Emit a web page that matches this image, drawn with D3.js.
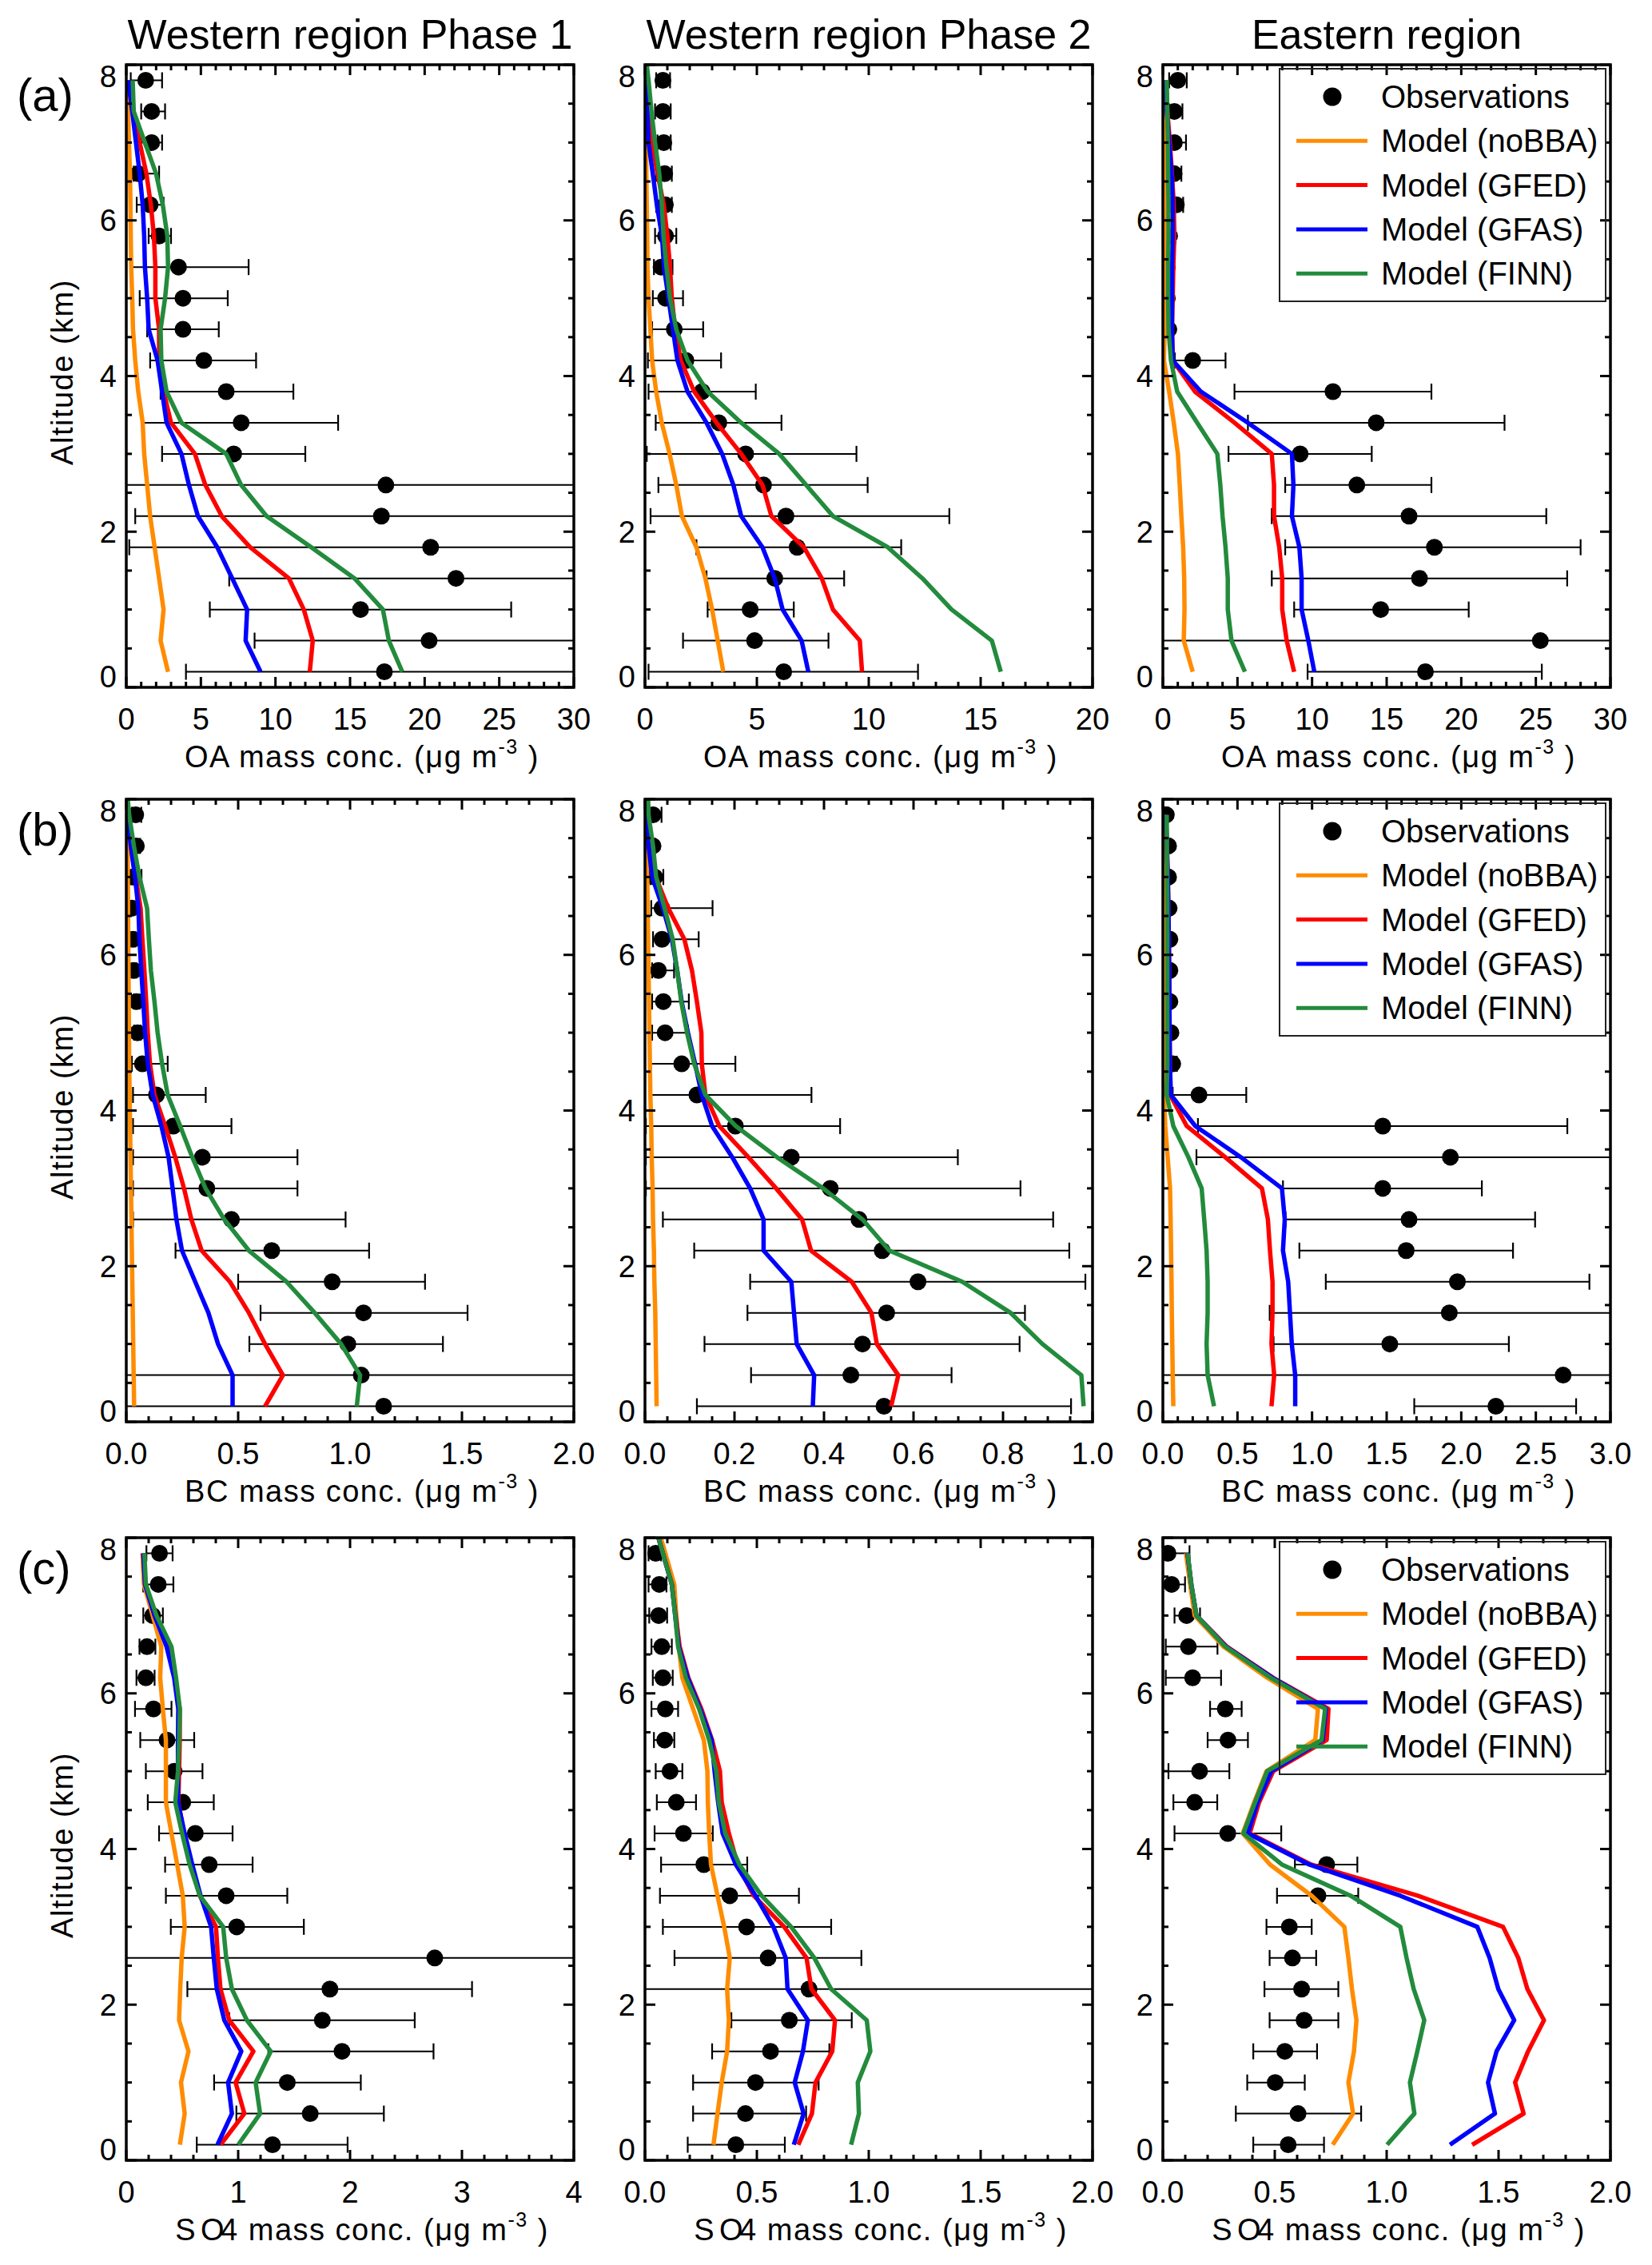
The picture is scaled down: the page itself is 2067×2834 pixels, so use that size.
<!DOCTYPE html>
<html><head><meta charset="utf-8">
<script src="https://cdn.jsdelivr.net/npm/d3@7"></script>
<style>
body{margin:0;background:#fff}
text{font-family:"Liberation Sans",Arial,Helvetica,sans-serif;fill:#000}
</style>
</head><body>
<svg id="c" width="2067" height="2834" xmlns="http://www.w3.org/2000/svg"></svg>
<script>
// ---------------- DATA ----------------
// altitude levels (km); the 21st level (8.2) only exists for some model profiles and is clipped
const altitudes = [0.2,0.6,1.0,1.4,1.8,2.2,2.6,3.0,3.4,3.8,4.2,4.6,5.0,5.4,5.8,6.2,6.6,7.0,7.4,7.8,8.2];
const columnTitles = ["Western region Phase 1","Western region Phase 2","Eastern region"];
const rowLabels = ["(a)","(b)","(c)"];
const seriesNames = ["Model (noBBA)","Model (GFED)","Model (GFAS)","Model (FINN)"];
const seriesColors = ["#FF8C00","#FF0000","#0000FF","#228B3C"];

// ---- OA, Western Phase 1 ----
const oaW1Obs = [17.3,20.3,15.7,22.1,20.4,17.1,17.4,7.2,7.7,6.7,5.2,3.8,3.8,3.5,2.2,1.6,0.8,1.7,1.7,1.3];
const oaW1Lo  = [4.0,8.6,5.6,6.9,0.2,0.6,-1,2.4,1.1,2.3,1.6,1.4,0.9,0.3,1.5,0.7,0.5,1.0,1.0,0.3];
const oaW1Hi  = [35,35,25.8,35,35,35,35,12.0,14.2,11.2,8.7,6.2,6.8,8.2,3.0,2.5,2.2,2.4,2.6,2.4];
const oaW1NoBBA = [2.8,2.3,2.5,2.2,1.9,1.6,1.4,1.2,1.1,0.8,0.6,0.45,0.4,0.33,0.3,0.28,0.25,0.18,0.13,0.08];
const oaW1GFED  = [12.3,12.5,11.9,10.9,8.3,6.4,5.3,4.6,3.0,2.5,2.2,2.2,1.95,1.95,1.85,1.65,1.35,0.9,0.45,0.13];
const oaW1GFAS  = [9.0,8.0,8.1,7.1,6.1,4.8,4.2,3.7,2.7,2.4,2.1,1.5,1.4,1.25,1.2,1.1,0.9,0.65,0.4,0.13];
const oaW1FINN  = [18.5,17.6,17.2,15.3,12.4,9.4,7.7,6.7,3.7,2.7,2.35,2.3,2.6,2.8,2.75,2.45,2.0,1.25,0.5,0.43];

// ---- OA, Western Phase 2 ----
const oaW2Obs = [6.2,4.9,4.7,5.8,6.8,6.3,5.3,4.5,3.3,2.55,1.83,1.31,0.92,0.72,0.92,0.91,0.88,0.84,0.8,0.8];
const oaW2Lo  = [0.16,1.7,2.8,2.75,2.3,0.25,0.6,0.08,0.48,0.16,0.13,0.32,0.35,0.4,0.45,0.5,0.5,0.56,0.45,0.5];
const oaW2Hi  = [12.2,8.2,6.65,8.9,11.45,13.6,9.95,9.45,6.1,4.95,3.4,2.6,1.7,1.23,1.4,1.2,1.2,1.15,1.15,1.12];
const oaW2NoBBA = [3.5,3.25,3.0,2.7,2.3,1.65,1.4,1.1,0.75,0.5,0.32,0.24,0.16,0.11,0.1,0.08,0.06,0.05,0.03,0.02,0];
const oaW2GFED  = [9.7,9.6,8.4,7.9,7.1,5.65,5.25,4.3,3.2,2.2,1.6,1.35,1.2,1.12,1.0,0.84,0.56,0.32,0.16,0.08,0];
const oaW2GFAS  = [7.3,7.0,6.15,5.8,5.25,4.3,3.95,3.45,2.75,1.9,1.45,1.25,1.05,0.85,0.76,0.53,0.35,0.16,0.1,0.03,0];
const oaW2FINN  = [15.9,15.5,13.7,12.4,10.85,8.4,7.2,6.0,4.3,2.8,1.9,1.4,1.12,0.96,0.83,0.75,0.64,0.45,0.29,0.16,0];

// ---- OA, Eastern ----
const oaEObs = [17.6,25.3,14.6,17.2,18.2,16.5,13.0,9.2,14.3,11.4,2.0,0.4,0.3,0.3,0.45,0.9,0.75,0.77,0.77,1.0];
const oaELo  = [9.7,-2,8.8,7.3,8.2,7.3,8.2,4.4,5.7,4.8,0.8,0.3,0.25,0.25,0.2,0.47,0.47,0.38,0.42,0.42];
const oaEHi  = [25.4,35,20.5,27.1,28.0,25.7,18.0,14.0,22.9,18.0,4.2,0.62,0.35,0.35,0.85,1.36,1.24,1.55,1.31,1.6];
const oaENoBBA = [2.0,1.4,1.45,1.43,1.36,1.24,1.13,1.01,0.73,0.42,0.07,0.12,0.14,0.14,0.19,0.23,0.19,0.14,0.09,0.07];
const oaEGFED  = [8.8,8.3,8.0,8.0,7.8,7.45,7.45,7.3,4.8,2.15,0.66,0.61,0.66,0.7,0.77,0.73,0.61,0.47,0.3,0.19];
const oaEGFAS  = [10.15,9.75,9.3,9.3,9.15,8.65,8.75,8.65,5.7,2.55,0.66,0.61,0.61,0.61,0.66,0.66,0.58,0.42,0.26,0.14];
const oaEFINN  = [5.5,4.6,4.35,4.35,4.2,4.0,3.85,3.65,2.3,0.96,0.54,0.38,0.35,0.35,0.38,0.38,0.35,0.33,0.3,0.26];

// ---- BC, Western Phase 1 ----
const bcW1Obs = [1.15,1.05,0.99,1.06,0.92,0.65,0.47,0.36,0.34,0.21,0.135,0.072,0.05,0.045,0.034,0.03,0.025,0.03,0.045,0.042];
const bcW1Lo  = [-0.1,-0.1,0.55,0.6,0.5,0.22,0.03,0.03,0.03,0.03,0.03,0.025,0.035,0.035,0.025,0.02,0.02,0.02,0.025,0.025];
const bcW1Hi  = [2.5,2.5,1.415,1.525,1.335,1.085,0.98,0.765,0.765,0.47,0.355,0.185,0.065,0.06,0.045,0.04,0.03,0.068,0.062,0.067];
const bcW1NoBBA = [0.035,0.033,0.031,0.029,0.027,0.025,0.023,0.021,0.019,0.017,0.015,0.013,0.012,0.011,0.01,0.009,0.008,0.007,0.006,0.005,0.004];
const bcW1GFED  = [0.62,0.70,0.62,0.548,0.463,0.337,0.291,0.258,0.219,0.174,0.126,0.106,0.096,0.089,0.081,0.072,0.064,0.042,0.022,0.008,0];
const bcW1GFAS  = [0.475,0.475,0.41,0.367,0.308,0.249,0.224,0.207,0.189,0.157,0.118,0.096,0.084,0.076,0.067,0.059,0.054,0.039,0.02,0.005,0];
const bcW1FINN  = [1.03,1.045,0.96,0.842,0.716,0.548,0.438,0.354,0.295,0.241,0.185,0.16,0.14,0.126,0.11,0.101,0.093,0.059,0.034,0.013,0];

// ---- BC, Western Phase 2 ----
const bcW2Obs = [0.534,0.46,0.486,0.54,0.61,0.53,0.478,0.414,0.327,0.202,0.116,0.082,0.045,0.041,0.03,0.038,0.038,0.022,0.018,0.018];
const bcW2Lo  = [0.116,0.237,0.133,0.229,0.235,0.11,0.04,0.002,0.002,0.002,0.014,0.012,0.016,0.016,0.016,0.018,0.014,0.012,0.014,0.008];
const bcW2Hi  = [0.952,0.685,0.837,0.849,0.984,0.948,0.912,0.839,0.699,0.436,0.372,0.202,0.096,0.098,0.065,0.12,0.151,0.041,0.022,0.037];
const bcW2NoBBA = [0.026,0.025,0.024,0.023,0.021,0.02,0.018,0.017,0.015,0.014,0.012,0.011,0.01,0.009,0.008,0.007,0.006,0.005,0.003,0.002,0.001];
const bcW2GFED  = [0.55,0.566,0.518,0.506,0.462,0.371,0.351,0.293,0.231,0.166,0.135,0.127,0.126,0.116,0.105,0.088,0.052,0.024,0.012,0.003,0];
const bcW2GFAS  = [0.375,0.378,0.339,0.333,0.327,0.265,0.265,0.235,0.195,0.15,0.127,0.112,0.096,0.082,0.072,0.06,0.04,0.016,0.008,0.002,0];
const bcW2FINN  = [0.98,0.975,0.888,0.817,0.709,0.546,0.486,0.398,0.295,0.203,0.135,0.11,0.094,0.081,0.072,0.062,0.044,0.025,0.018,0.008,0.006];

// ---- BC, Eastern ----
const bcEObs = [2.232,2.683,1.521,1.92,1.974,1.631,1.65,1.474,1.927,1.474,0.242,0.066,0.054,0.047,0.047,0.047,0.042,0.038,0.038,0.023];
const bcELo  = [1.685,-0.2,0.742,0.716,1.092,0.915,0.822,0.805,0.225,0.235,0.066,0.03,0.04,0.035,0.035,0.035,0.03,0.03,0.03,0.015];
const bcEHi  = [2.77,3.5,2.319,3.5,2.859,2.347,2.495,2.138,3.5,2.711,0.559,0.094,0.065,0.06,0.06,0.06,0.055,0.05,0.05,0.035];
const bcENoBBA = [0.07,0.066,0.063,0.06,0.058,0.055,0.052,0.048,0.032,0.016,0.008,0.012,0.014,0.015,0.016,0.016,0.015,0.014,0.012,0.01];
const bcEGFED  = [0.728,0.746,0.728,0.735,0.735,0.718,0.704,0.664,0.418,0.16,0.049,0.047,0.045,0.044,0.042,0.04,0.037,0.033,0.027,0.02];
const bcEGFAS  = [0.887,0.887,0.864,0.852,0.84,0.805,0.817,0.798,0.523,0.218,0.054,0.047,0.045,0.044,0.042,0.04,0.037,0.033,0.027,0.02];
const bcEFINN  = [0.343,0.3,0.293,0.3,0.3,0.293,0.277,0.26,0.171,0.07,0.026,0.03,0.03,0.03,0.03,0.03,0.03,0.028,0.027,0.026];

// ---- SO4, Western Phase 1 ----
const so4W1Obs = [1.307,1.644,1.439,1.928,1.752,1.82,2.757,0.987,0.893,0.741,0.617,0.505,0.428,0.364,0.243,0.175,0.185,0.236,0.286,0.297];
const so4W1Lo  = [0.63,0.984,0.785,1.27,0.92,0.546,-0.2,0.398,0.354,0.347,0.293,0.192,0.175,0.125,0.078,0.091,0.118,0.152,0.152,0.18];
const so4W1Hi  = [1.978,2.302,2.096,2.746,2.578,3.09,5,1.587,1.439,1.129,0.95,0.782,0.681,0.607,0.404,0.253,0.26,0.327,0.421,0.414];
const so4W1NoBBA = [0.479,0.522,0.489,0.556,0.472,0.482,0.495,0.522,0.505,0.455,0.404,0.354,0.354,0.354,0.327,0.303,0.313,0.236,0.158,0.145];
const so4W1GFED  = [0.842,1.055,0.977,1.136,0.92,0.842,0.819,0.802,0.657,0.58,0.515,0.465,0.472,0.478,0.478,0.432,0.371,0.253,0.168,0.152];
const so4W1GFAS  = [0.815,0.944,0.91,1.028,0.876,0.809,0.782,0.758,0.664,0.59,0.522,0.462,0.462,0.462,0.465,0.428,0.36,0.253,0.168,0.152];
const so4W1FINN  = [1.001,1.196,1.156,1.291,1.078,0.944,0.893,0.866,0.657,0.566,0.499,0.438,0.462,0.472,0.479,0.445,0.404,0.27,0.175,0.162];

// ---- SO4, Western Phase 2 ----
const so4W2Obs = [0.406,0.449,0.494,0.561,0.645,0.733,0.55,0.454,0.379,0.263,0.172,0.14,0.112,0.088,0.091,0.08,0.075,0.061,0.064,0.048];
const so4W2Lo  = [0.191,0.215,0.215,0.3,0.386,-0.2,0.132,0.08,0.067,0.072,0.043,0.053,0.048,0.04,0.029,0.035,0.029,0.019,0.016,0.016];
const so4W2Hi  = [0.625,0.72,0.776,0.824,0.924,2.5,0.967,0.832,0.688,0.457,0.303,0.228,0.167,0.131,0.148,0.124,0.12,0.099,0.096,0.072];
const so4W2NoBBA = [0.306,0.324,0.343,0.367,0.375,0.367,0.379,0.354,0.324,0.295,0.287,0.281,0.279,0.263,0.215,0.167,0.151,0.14,0.131,0.091,0.05];
const so4W2GFED  = [0.685,0.746,0.762,0.837,0.849,0.744,0.722,0.622,0.486,0.414,0.375,0.343,0.335,0.3,0.252,0.194,0.155,0.137,0.12,0.08,0.04];
const so4W2GFAS  = [0.665,0.709,0.669,0.706,0.728,0.637,0.629,0.574,0.494,0.406,0.347,0.327,0.311,0.298,0.247,0.191,0.151,0.135,0.12,0.08,0.04];
const so4W2FINN  = [0.921,0.956,0.951,1.007,0.991,0.832,0.757,0.653,0.521,0.422,0.359,0.33,0.319,0.287,0.242,0.183,0.148,0.135,0.12,0.08,0.04];

// ---- SO4, Eastern ----
const so4EObs = [0.56,0.604,0.502,0.545,0.631,0.62,0.579,0.565,0.693,0.732,0.29,0.142,0.164,0.291,0.279,0.133,0.114,0.106,0.039,0.023];
const so4ELo  = [0.404,0.326,0.377,0.404,0.477,0.454,0.477,0.463,0.51,0.59,0.052,0.047,0.025,0.2,0.211,0.013,0.013,0.052,-0.05,-0.05];
const so4EHi  = [0.72,0.886,0.634,0.689,0.784,0.784,0.685,0.665,0.873,0.869,0.529,0.243,0.297,0.38,0.352,0.26,0.244,0.166,0.099,0.119];
const so4ENoBBA = [0.759,0.85,0.829,0.854,0.865,0.845,0.829,0.811,0.665,0.479,0.357,0.408,0.463,0.681,0.693,0.466,0.271,0.142,0.122,0.103];
const so4EGFED  = [1.382,1.612,1.574,1.632,1.703,1.629,1.588,1.52,1.139,0.662,0.388,0.43,0.493,0.732,0.74,0.493,0.286,0.15,0.127,0.11];
const so4EGFAS  = [1.283,1.484,1.453,1.491,1.57,1.499,1.46,1.405,1.061,0.654,0.38,0.423,0.485,0.714,0.729,0.49,0.282,0.15,0.127,0.11];
const so4EFINN  = [1.002,1.124,1.104,1.137,1.168,1.121,1.089,1.061,0.839,0.532,0.36,0.412,0.466,0.709,0.725,0.482,0.279,0.15,0.127,0.111];

// axis ranges / ticks
const xMaxes   = [[30,20,30],[2.0,1.0,3.0],[4,2.0,2.0]];
const xMajors  = [[5,5,5],[0.5,0.2,0.5],[1,0.5,0.5]];
const xMinors  = [[1,1,1],[0.1,0.05,0.1],[0.2,0.1,0.1]];
const xDecimals= [[0,0,0],[1,1,1],[0,1,1]];
const yTickValues = [0,2,4,6,8];
const species = ["OA","BC","SO4"];

// ---------------- LAYOUT ----------------
const LEFT = [158, 807, 1455], W = 560;
const TOP = [81, 1000, 1924], H = 779;

const panelData = [
 [[oaW1Obs,oaW1Lo,oaW1Hi,[oaW1NoBBA,oaW1GFED,oaW1GFAS,oaW1FINN]],
  [oaW2Obs,oaW2Lo,oaW2Hi,[oaW2NoBBA,oaW2GFED,oaW2GFAS,oaW2FINN]],
  [oaEObs,oaELo,oaEHi,[oaENoBBA,oaEGFED,oaEGFAS,oaEFINN]]],
 [[bcW1Obs,bcW1Lo,bcW1Hi,[bcW1NoBBA,bcW1GFED,bcW1GFAS,bcW1FINN]],
  [bcW2Obs,bcW2Lo,bcW2Hi,[bcW2NoBBA,bcW2GFED,bcW2GFAS,bcW2FINN]],
  [bcEObs,bcELo,bcEHi,[bcENoBBA,bcEGFED,bcEGFAS,bcEFINN]]],
 [[so4W1Obs,so4W1Lo,so4W1Hi,[so4W1NoBBA,so4W1GFED,so4W1GFAS,so4W1FINN]],
  [so4W2Obs,so4W2Lo,so4W2Hi,[so4W2NoBBA,so4W2GFED,so4W2GFAS,so4W2FINN]],
  [so4EObs,so4ELo,so4EHi,[so4ENoBBA,so4EGFED,so4EGFAS,so4EFINN]]]
];

const svg = d3.select("#c");
const defs = svg.append("defs");
const TICK_MAJ = 13, TICK_MIN = 7;

function isMultiple(v, step){ const r = v/step; return Math.abs(r-Math.round(r)) < 1e-6; }

for (let r=0;r<3;r++){
  for (let c=0;c<3;c++){
    const x0 = LEFT[c], y0 = TOP[r];
    const xmax = xMaxes[r][c];
    const x = d3.scaleLinear().domain([0,xmax]).range([x0,x0+W]);
    const y = d3.scaleLinear().domain([0,8]).range([y0+H,y0]);
    const [obs,lo,hi,lines] = panelData[r][c];
    const cid = `clip${r}${c}`;
    defs.append("clipPath").attr("id",cid).append("rect")
      .attr("x",x0).attr("y",y0).attr("width",W).attr("height",H);
    const g = svg.append("g");
    const inner = g.append("g").attr("clip-path",`url(#${cid})`);

    const od = obs.map((v,i)=>({a:altitudes[i],v,lo:lo[i],hi:hi[i]}));
    // error bars
    inner.selectAll("line.eb").data(od).join("line").attr("class","eb")
      .attr("x1",d=>x(d.lo)).attr("x2",d=>x(d.hi))
      .attr("y1",d=>y(d.a)).attr("y2",d=>y(d.a))
      .attr("stroke","#000").attr("stroke-width",2);
    const caps = [];
    od.forEach(d=>{ caps.push({a:d.a,v:d.lo}); caps.push({a:d.a,v:d.hi}); });
    inner.selectAll("line.cap").data(caps).join("line").attr("class","cap")
      .attr("x1",d=>x(d.v)).attr("x2",d=>x(d.v))
      .attr("y1",d=>y(d.a)-10).attr("y2",d=>y(d.a)+10)
      .attr("stroke","#000").attr("stroke-width",2.2);
    // observation dots
    inner.selectAll("circle.obs").data(od.filter(d=>d.v!=null)).join("circle").attr("class","obs")
      .attr("cx",d=>x(d.v)).attr("cy",d=>y(d.a)).attr("r",10.5).attr("fill","#000");
    // model lines
    const lineGen = d3.line().x(d=>x(d.v)).y(d=>y(d.a));
    lines.forEach((arr,k)=>{
      inner.append("path")
        .datum(arr.map((v,i)=>({a:altitudes[i],v})))
        .attr("d",lineGen).attr("fill","none")
        .attr("stroke",seriesColors[k]).attr("stroke-width",5.5)
        .attr("stroke-linejoin","round");
    });

    // frame
    g.append("rect").attr("x",x0).attr("y",y0).attr("width",W).attr("height",H)
      .attr("fill","none").attr("stroke","#000").attr("stroke-width",3.5);
    // x ticks
    const xt = d3.range(0, xmax + xMinors[r][c]/2, xMinors[r][c]);
    xt.forEach(v=>{
      const L = isMultiple(v,xMajors[r][c]) ? TICK_MAJ : TICK_MIN;
      const px = x(v);
      g.append("line").attr("x1",px).attr("x2",px).attr("y1",y0+H).attr("y2",y0+H-L).attr("stroke","#000").attr("stroke-width",3);
      g.append("line").attr("x1",px).attr("x2",px).attr("y1",y0).attr("y2",y0+L).attr("stroke","#000").attr("stroke-width",3);
    });
    // y ticks
    d3.range(0,8.01,0.5).forEach(v=>{
      const L = isMultiple(v,2) ? TICK_MAJ : TICK_MIN;
      const py = y(v);
      g.append("line").attr("x1",x0).attr("x2",x0+L).attr("y1",py).attr("y2",py).attr("stroke","#000").attr("stroke-width",3);
      g.append("line").attr("x1",x0+W).attr("x2",x0+W-L).attr("y1",py).attr("y2",py).attr("stroke","#000").attr("stroke-width",3);
    });
    // x tick labels
    const xl = d3.range(0, xmax + xMajors[r][c]/2, xMajors[r][c]);
    g.selectAll("text.xtl").data(xl).join("text").attr("class","xtl")
      .attr("x",d=>x(d)).attr("y",y0+H+53).attr("text-anchor","middle")
      .attr("font-size",38).text(d=>d.toFixed(xDecimals[r][c]));
    // y tick labels
    g.selectAll("text.ytl").data(yTickValues).join("text").attr("class","ytl")
      .attr("x",x0-12).attr("y",d=> d===0 ? y(d) : (d===8 ? y(d)+28 : y(d)+13.5))
      .attr("text-anchor","end").attr("font-size",38).text(d=>d);
    // x axis label
    const lab = g.append("text").attr("x",x0+W/2+15).attr("y",y0+H+100)
      .attr("text-anchor","middle").attr("font-size",38).attr("letter-spacing",1.5);
    if (species[r]==="SO4"){
      lab.append("tspan").text("S");
      lab.append("tspan").attr("dx",5).text("O");
      lab.append("tspan").attr("dx",-6).text("4");
    } else {
      lab.append("tspan").text(species[r]);
    }
    lab.append("tspan").text(" mass conc. (\u03bcg m");
    lab.append("tspan").attr("font-size",25).attr("dy",-17).text("-3");
    lab.append("tspan").attr("dy",17).text(" )");

    // y axis label (first column)
    if (c===0){
      g.append("text").attr("transform",`translate(91,${y0+H/2-5}) rotate(-90)`)
        .attr("text-anchor","middle").attr("font-size",38).attr("letter-spacing",1.5)
        .text("Altitude (km)");
      g.append("text").attr("x",21).attr("y",y0+58).attr("font-size",58).text(rowLabels[r]);
    }
    // column titles
    if (r===0){
      g.append("text").attr("x",x0+W/2).attr("y",61).attr("text-anchor","middle")
        .attr("font-size",52).text(columnTitles[c]);
    }
    // legend (last column)
    if (c===2){
      const lg = g.append("g");
      lg.append("rect").attr("x",x0+146).attr("y",y0+5).attr("width",408).attr("height",291)
        .attr("fill","none").attr("stroke","#222").attr("stroke-width",2);
      const rowsY = [0,1,2,3,4].map(i=>y0+40+i*55.3);
      lg.append("circle").attr("cx",x0+212).attr("cy",rowsY[0]).attr("r",11.5).attr("fill","#000");
      lg.append("text").attr("x",x0+273).attr("y",rowsY[0]+14).attr("font-size",40).text("Observations");
      seriesNames.forEach((nm,k)=>{
        lg.append("line").attr("x1",x0+167).attr("x2",x0+256)
          .attr("y1",rowsY[k+1]).attr("y2",rowsY[k+1])
          .attr("stroke",seriesColors[k]).attr("stroke-width",5);
        lg.append("text").attr("x",x0+273).attr("y",rowsY[k+1]+14).attr("font-size",40).text(nm);
      });
    }
  }
}
</script>
</body></html>
